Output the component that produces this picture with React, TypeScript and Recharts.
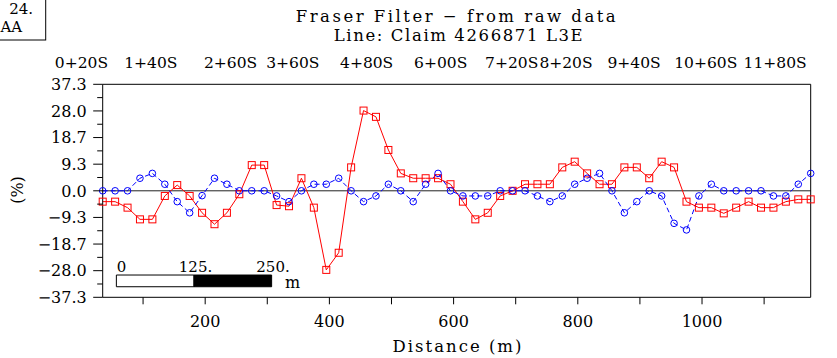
import React from 'react';
import { ComposedChart, Line, XAxis, YAxis, ReferenceLine, ReferenceArea } from 'recharts';

const FONT = '"DejaVu Serif", "Liberation Serif", serif';

const distances = [35, 55, 75, 95, 115, 135, 155, 175, 195, 215, 235, 255, 275, 295, 315, 335, 355, 375, 395, 415, 435, 455, 475, 495, 515, 535, 555, 575, 595, 615, 635, 655, 675, 695, 715, 735, 755, 775, 795, 815, 835, 855, 875, 895, 915, 935, 955, 975, 995, 1015, 1035, 1055, 1075, 1095, 1115, 1135, 1155, 1175];

const redValues = [
  -3.8, -3.8, -5.9, -10.0, -10.0, -1.8, 2.0, -1.8, -7.7, -11.7,
  -7.7, -1.2, 9.0, 9.0, -5.0, -5.4, 4.4, -5.9, -27.7, -21.7,
  8.2, 28.1, 25.9, 14.3, 6.1, 4.4, 4.4, 4.4, 2.3, -3.8,
  -10.0, -7.7, -1.8, 0, 2.3, 2.3, 2.3, 8.2, 10.2, 6.1,
  2.3, 2.3, 8.2, 8.2, 4.4, 10.2, 8.2, -3.8, -5.9, -5.9,
  -7.9, -5.9, -3.8, -5.9, -5.9, -3.8, -3.0, -3.0,
];

const blueValues = [
  0, 0, 0, 4.4, 6.1, 2.3, -3.8, -7.7, -1.7, 4.4,
  2.3, 0, 0, 0, -1.8, -3.8, 0, 2.3, 2.3, 4.4,
  0, -3.8, -1.8, 2.3, 0, -3.8, 2.3, 6.1, 0, -1.8,
  -1.8, -1.8, 0, 0, 0, -1.8, -3.8, -1.8, 2.3, 4.4,
  6.1, 0, -7.7, -3.8, 0, -1.8, -11.4, -13.7, -1.8, 2.3,
  0, 0, 0, 0, -1.8, -1.8, 2.3, 6.1,
];

const xTicks = [100, 200, 300, 400, 500, 600, 700, 800, 900, 1000, 1100];
const xTickLabels = ['', '200', '', '400', '', '600', '', '800', '', '1000', ''];

const Y_MAX = 37.3;
const yMajorLabels = ['37.3', '28.0', '18.7', '9.3', '0.0', '\u22129.3', '\u221218.7', '\u221228.0', '\u221237.3'];
const yTicks = Array.from({ length: 17 }, (_, k) => Y_MAX - (k * Y_MAX) / 8);

const stationLabels = ['0+20S', '1+40S', '2+60S', '3+60S', '4+80S', '6+00S', '7+20S', '8+20S', '9+40S', '10+60S', '11+80S'];
const stationPositions = [0.8, 112.5, 240.9, 341.2, 460, 579.2, 693.6, 781, 890.6, 1006, 1117.7];

const scaleBarStart = 57;
const scaleBarSegment = 125;
const scaleBarY = [-33.6, -29.5];

const data = distances.map((d, i) => ({ d, red: redValues[i], blue: blueValues[i] }));

const tickIndex = (v: number) => Math.round(((Y_MAX - v) * 8) / Y_MAX);

const LeftTick = (props: any) => {
  const { x, y, payload } = props;
  const k = tickIndex(payload.value);
  const major = k % 2 === 0;
  return (
    <g>
      <line x1={x - (major ? 9.5 : 5.5)} x2={x} y1={y} y2={y} stroke="#000" strokeWidth={1} />
      {major && (
        <text x={x - 16} y={y} dy="0.36em" textAnchor="end" fontFamily={FONT} fontSize={16} fill="#000">
          {yMajorLabels[k / 2]}
        </text>
      )}
    </g>
  );
};

const RightTick = (props: any) => {
  const { x, y, payload } = props;
  const k = tickIndex(payload.value);
  const major = k % 2 === 0;
  return <line x1={x} x2={x + (major ? 9.3 : 7.5)} y1={y} y2={y} stroke="#000" strokeWidth={1} />;
};

const BottomTick = (props: any) => {
  const { x, y, payload } = props;
  const i = xTicks.indexOf(payload.value);
  const label = i >= 0 ? xTickLabels[i] : '';
  return (
    <g>
      <line x1={x} x2={x} y1={y} y2={y + 7} stroke="#000" strokeWidth={1} />
      {label && (
        <text x={x} y={y + 29.4} textAnchor="middle" fontFamily={FONT} fontSize={16} fill="#000">
          {label}
        </text>
      )}
    </g>
  );
};

const TopTick = (props: any) => {
  const { x, y, payload } = props;
  const i = stationPositions.indexOf(payload.value);
  return (
    <text x={x} y={y - 16} textAnchor="middle" fontFamily={FONT} fontSize={15.5} fill="#000">
      {i >= 0 ? stationLabels[i] : ''}
    </text>
  );
};

const SquareDot = (p: any) => (
  <rect key={`s${p.index}`} x={p.cx - 3.5} y={p.cy - 3.5} width={7} height={7} fill="none" stroke="#ff0000" strokeWidth={1} />
);

const CircleDot = (p: any) => (
  <circle key={`c${p.index}`} cx={p.cx} cy={p.cy} r={3.3} fill="none" stroke="#0000ff" strokeWidth={1} />
);

export default function App() {
  return (
    <div style={{ position: 'absolute', left: 0, top: 0, width: 837, height: 358, background: '#fff' }}>
      <ComposedChart width={837} height={358} data={data} margin={{ top: 0, right: 0, bottom: 0, left: 0 }}>
        <XAxis
          xAxisId="b"
          dataKey="d"
          type="number"
          domain={[35, 1175]}
          ticks={xTicks}
          interval={0}
          height={60.7}
          tickSize={0}
          tickMargin={0}
          tick={<BottomTick />}
          axisLine={{ stroke: '#000' }}
          tickLine={false}
        />
        <XAxis
          xAxisId="t"
          orientation="top"
          dataKey="d"
          type="number"
          domain={[35, 1175]}
          ticks={stationPositions}
          interval={0}
          height={84.3}
          tickSize={0}
          tickMargin={0}
          tick={<TopTick />}
          axisLine={{ stroke: '#000' }}
          tickLine={false}
        />
        <YAxis
          yAxisId="l"
          type="number"
          domain={[-Y_MAX, Y_MAX]}
          ticks={yTicks}
          interval={0}
          width={102.7}
          tickSize={0}
          tickMargin={0}
          tick={<LeftTick />}
          axisLine={{ stroke: '#000' }}
          tickLine={false}
        />
        <YAxis
          yAxisId="r"
          orientation="right"
          type="number"
          domain={[-Y_MAX, Y_MAX]}
          ticks={yTicks}
          interval={0}
          width={26.3}
          tickSize={0}
          tickMargin={0}
          tick={<RightTick />}
          axisLine={{ stroke: '#000' }}
          tickLine={false}
        />
        <ReferenceLine xAxisId="b" yAxisId="l" y={0} stroke="#222" strokeWidth={1} />
        <ReferenceArea
          xAxisId="b"
          yAxisId="l"
          x1={scaleBarStart}
          x2={scaleBarStart + scaleBarSegment}
          y1={scaleBarY[0]}
          y2={scaleBarY[1]}
          fill="#fff"
          fillOpacity={1}
          stroke="#000"
          strokeWidth={1}
          ifOverflow="visible"
        />
        <ReferenceArea
          xAxisId="b"
          yAxisId="l"
          x1={scaleBarStart + scaleBarSegment}
          x2={scaleBarStart + 2 * scaleBarSegment}
          y1={scaleBarY[0]}
          y2={scaleBarY[1]}
          fill="#000"
          fillOpacity={1}
          stroke="#000"
          strokeWidth={1}
          ifOverflow="visible"
        />
        <Line
          xAxisId="b"
          yAxisId="l"
          type="linear"
          dataKey="red"
          stroke="#ff0000"
          strokeWidth={1}
          dot={SquareDot}
          activeDot={false}
          isAnimationActive={false}
        />
        <Line
          xAxisId="b"
          yAxisId="l"
          type="linear"
          dataKey="blue"
          stroke="#0000ff"
          strokeWidth={1}
          strokeDasharray="5 3"
          dot={CircleDot}
          activeDot={false}
          isAnimationActive={false}
        />
      </ComposedChart>
      <svg
        width={837}
        height={358}
        style={{ position: 'absolute', left: 0, top: 0, pointerEvents: 'none' }}
        fontFamily={FONT}
        fill="#000"
      >
        <rect x={-2} y={-2} width={47.7} height={42} fill="none" stroke="#000" strokeWidth={1} />
        <text x={33} y={14} textAnchor="end" fontSize={15}>24.</text>
        <text x={0.5} y={32} textAnchor="start" fontSize={15}>AA</text>
        <text x={457} y={22} textAnchor="middle" fontSize={16.5} letterSpacing={2.5}>Fraser Filter {'\u2212'} from raw data</text>
        <text x={459} y={41} textAnchor="middle" fontSize={16.5} letterSpacing={1.6}>Line: Claim 4266871 L3E</text>
        <text x={17.5} y={190} dy="0.36em" textAnchor="middle" fontSize={16} transform="rotate(-90 17.5 190)">(%)</text>
        <text x={458} y={351.7} textAnchor="middle" fontSize={16.5} letterSpacing={2}>Distance (m)</text>
        <text x={116.7} y={271.7} textAnchor="start" fontSize={15}>0</text>
        <text x={195.5} y={271.7} textAnchor="middle" fontSize={15}>125.</text>
        <text x={273} y={271.7} textAnchor="middle" fontSize={15}>250.</text>
        <text x={292.5} y={288} textAnchor="middle" fontSize={16}>m</text>
      </svg>
    </div>
  );
}
